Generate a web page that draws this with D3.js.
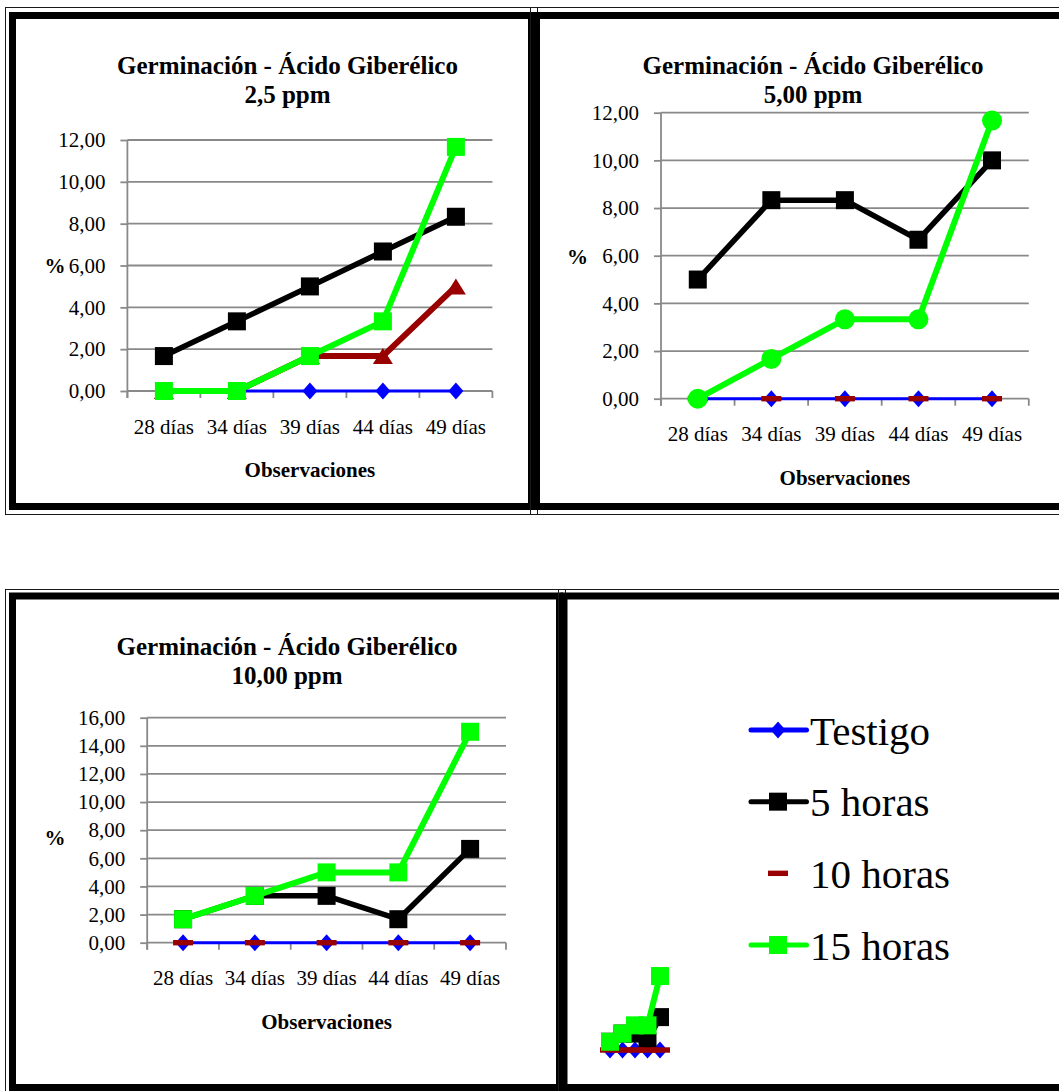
<!DOCTYPE html>
<html>
<head>
<meta charset="utf-8">
<script src="https://cdn.jsdelivr.net/npm/d3@7"></script>
<style>
  html, body { margin: 0; padding: 0; background: #fff; }
  svg { display: block; }
  text { font-family: "Liberation Serif", "Times New Roman", serif; fill: #000; }
</style>
</head>
<body>
<svg id="chart" width="1059" height="1091"></svg>
<script>
// ---- Data ----------------------------------------------------------------
const categories = ["28 días", "34 días", "39 días", "44 días", "49 días"];
const seriesNames = ["Testigo", "5 horas", "10 horas", "15 horas"];

// Ácido giberélico 2,5 ppm
const testigo25 = [0, 0, 0, 0, 0];
const horas5_25 = [1.67, 3.33, 5.00, 6.67, 8.33];
const horas10_25 = [0, 0, 1.67, 1.67, 5.00];
const horas15_25 = [0, 0, 1.67, 3.33, 11.67];

// Ácido giberélico 5,00 ppm
const testigo50 = [0, 0, 0, 0, 0];
const horas5_50 = [5.00, 8.33, 8.33, 6.67, 10.00];
const horas10_50 = [0, 0, 0, 0, 0];
const horas15_50 = [0, 1.67, 3.33, 3.33, 11.67];

// Ácido giberélico 10,00 ppm
const testigo100 = [0, 0, 0, 0, 0];
const horas5_100 = [1.67, 3.33, 3.33, 1.67, 6.67];
const horas10_100 = [0, 0, 0, 0, 0];
const horas15_100 = [1.67, 3.33, 5.00, 5.00, 15.00];

const yTicks12 = [0, 2, 4, 6, 8, 10, 12];
const yTicks16 = [0, 2, 4, 6, 8, 10, 12, 14, 16];

const titleMain = "Germinación - Ácido Giberélico";
const xTitle = "Observaciones";
const yTitle = "%";

// ---- Styling -------------------------------------------------------------
const seriesColors = ["#0000ff", "#000000", "#990000", "#00ff00"];
const seriesWidths = [3, 5.5, 6, 6];
const gridColor = "#898989";
const fmt = d3.formatLocale({ decimal: ",", thousands: ".", grouping: [3], currency: ["", ""] }).format(".2f");

const svg = d3.select("#chart");
svg.append("rect").attr("width", 1059).attr("height", 1091).attr("fill", "#fff");

// Marker shapes, centred on the data point
function drawMarker(sel, type, color) {
  if (type === "square") {
    sel.append("rect").attr("x", -9).attr("y", -9).attr("width", 18).attr("height", 18).attr("fill", color);
  } else if (type === "diamond") {
    sel.append("path").attr("d", "M0,-8.5L7.5,0L0,8.5L-7.5,0Z").attr("fill", color);
  } else if (type === "triangle") {
    sel.append("path").attr("d", "M0,-8L10,8L-10,8Z").attr("fill", color);
  } else if (type === "circle") {
    sel.append("circle").attr("r", 10).attr("fill", color);
  } else if (type === "dash") {
    sel.append("rect").attr("x", -10).attr("y", -2.7).attr("width", 20).attr("height", 5.4).attr("fill", color);
  }
}

// Series lines and markers on a given pair of scales
function drawSeries(g, x, y, seriesValues, markers, showLine) {
  const cx = c => x(c) + x.bandwidth() / 2;
  seriesValues.forEach((vals, i) => {
    const pts = categories.map((c, j) => ({ c, v: vals[j] }));
    const color = seriesColors[i];
    if (showLine[i]) {
      g.append("path")
        .datum(pts)
        .attr("fill", "none")
        .attr("stroke", color)
        .attr("stroke-width", seriesWidths[i])
        .attr("stroke-linejoin", "round")
        .attr("stroke-linecap", "round")
        .attr("d", d3.line().x(d => cx(d.c)).y(d => y(d.v)));
    }
    g.append("g").selectAll("g").data(pts).join("g")
      .attr("transform", d => `translate(${cx(d.c)},${y(d.v)})`)
      .each(function () { drawMarker(d3.select(this), markers[i], color); });
  });
}

// One full chart: gridlines, axes, titles, series
function drawChart(cfg) {
  const g = svg.append("g");
  const x = d3.scaleBand().domain(categories).range([cfg.x0, cfg.x1]);
  const y = d3.scaleLinear().domain([0, cfg.yMax]).range([cfg.yBottom, cfg.yTop]);

  g.append("g").selectAll("line").data(cfg.yTicks).join("line")
    .attr("x1", cfg.x0).attr("x2", cfg.x1)
    .attr("y1", d => y(d)).attr("y2", d => y(d))
    .attr("stroke", gridColor).attr("stroke-width", 1.8);

  const ya = g.append("g").attr("transform", `translate(${cfg.x0},0)`)
    .call(d3.axisLeft(y).tickValues(cfg.yTicks).tickSize(7).tickPadding(15).tickFormat(fmt));
  ya.select(".domain").remove();
  ya.selectAll(".tick line").attr("stroke", gridColor).attr("stroke-width", 1.8);
  ya.selectAll(".tick text").attr("font-size", 21).attr("font-family", null).attr("fill", "#000");

  g.append("line")
    .attr("x1", cfg.x0).attr("x2", cfg.x0)
    .attr("y1", y(cfg.yMax)).attr("y2", y(0) + 7)
    .attr("stroke", gridColor).attr("stroke-width", 1.8);

  const bounds = categories.map(c => x(c)).concat([cfg.x1]);
  g.append("g").selectAll("line").data(bounds).join("line")
    .attr("x1", d => d).attr("x2", d => d)
    .attr("y1", y(0)).attr("y2", y(0) + 7)
    .attr("stroke", gridColor).attr("stroke-width", 1.8);

  const xa = g.append("g").attr("transform", `translate(0,${y(0)})`)
    .call(d3.axisBottom(x).tickSize(0));
  xa.select(".domain").remove();
  xa.selectAll(".tick text").attr("font-size", 21).attr("font-family", null)
    .attr("fill", "#000").attr("dy", null).attr("y", 42.5);

  g.append("text").attr("x", cfg.titleX).attr("y", cfg.titleY)
    .attr("text-anchor", "middle").attr("font-size", 25).attr("font-weight", "bold")
    .text(titleMain);
  g.append("text").attr("x", cfg.titleX).attr("y", cfg.titleY + 29)
    .attr("text-anchor", "middle").attr("font-size", 25).attr("font-weight", "bold")
    .text(cfg.subtitle);

  g.append("text").attr("x", (cfg.x0 + cfg.x1) / 2).attr("y", y(0) + 86)
    .attr("text-anchor", "middle").attr("font-size", 21).attr("font-weight", "bold")
    .text(xTitle);
  g.append("text").attr("x", cfg.pctX).attr("y", cfg.pctY).attr("dy", "0.35em")
    .attr("text-anchor", "middle").attr("font-size", 21).attr("font-weight", "bold")
    .text(yTitle);

  drawSeries(g, x, y, cfg.series, cfg.markers, cfg.showLine);
}

// Double-ruled panel frame: thin outer rule, then a heavy black band
function drawFrame(thin, thick) {
  svg.append("rect").attr("x", thin[0]).attr("y", thin[1]).attr("width", thin[2]).attr("height", thin[3])
    .attr("fill", "none").attr("stroke", "#1a1a1a").attr("stroke-width", 1);
  svg.append("rect").attr("x", thick[0]).attr("y", thick[1]).attr("width", thick[2]).attr("height", thick[3])
    .attr("fill", "none").attr("stroke", "#000").attr("stroke-width", 7);
}

drawFrame([5.5, 7.5, 532, 507], [12.5, 15.5, 519, 491]);
drawFrame([530.5, 7.5, 600, 507], [536.5, 15.5, 600, 491]);
drawFrame([5.5, 589.5, 560, 600], [12.5, 596, 547, 491.5]);
drawFrame([558.5, 589.5, 600, 600], [564, 596, 600, 491.5]);

drawChart({
  x0: 127.4, x1: 492.4, yTop: 140, yBottom: 391, yMax: 12, yTicks: yTicks12,
  titleX: 287.5, titleY: 74, subtitle: "2,5 ppm", pctX: 55, pctY: 266,
  series: [testigo25, horas5_25, horas10_25, horas15_25],
  markers: ["diamond", "square", "triangle", "square"],
  showLine: [true, true, true, true]
});

drawChart({
  x0: 661, x1: 1028.8, yTop: 112.7, yBottom: 398.7, yMax: 12, yTicks: yTicks12,
  titleX: 813, titleY: 74, subtitle: "5,00 ppm", pctX: 577.5, pctY: 257,
  series: [testigo50, horas5_50, horas10_50, horas15_50],
  markers: ["diamond", "square", "dash", "circle"],
  showLine: [true, true, false, true]
});

drawChart({
  x0: 147.2, x1: 506, yTop: 717.7, yBottom: 942.7, yMax: 16, yTicks: yTicks16,
  titleX: 287, titleY: 655, subtitle: "10,00 ppm", pctX: 55, pctY: 838,
  series: [testigo100, horas5_100, horas10_100, horas15_100],
  markers: ["diamond", "square", "dash", "square"],
  showLine: [true, true, false, true]
});

// Legend panel: entries plus the collapsed plot of the 10,00 ppm series
const legendMarkers = ["diamond", "square", "dash", "square"];
const legendLine = [true, true, false, true];
const legendY = d3.scalePoint().domain(seriesNames).range([730, 945]);
const lg = svg.append("g");
seriesNames.forEach((name, i) => {
  const yy = legendY(name);
  if (legendLine[i]) {
    lg.append("line").attr("x1", 751).attr("x2", 806.5).attr("y1", yy).attr("y2", yy)
      .attr("stroke", seriesColors[i]).attr("stroke-width", 5).attr("stroke-linecap", "round");
  }
  const m = lg.append("g").attr("transform", `translate(778,${yy})`);
  drawMarker(m, legendMarkers[i], seriesColors[i]);
  lg.append("text").attr("x", 810).attr("y", yy + 14.5)
    .attr("font-size", 41).text(name);
});

const mini = svg.append("g");
const mx = d3.scaleBand().domain(categories).range([603.75, 666.25]);
const my = d3.scaleLinear().domain([0, 16]).range([1050, 971.1]);
drawSeries(mini, mx, my, [testigo100, horas5_100, horas10_100, horas15_100],
  ["diamond", "square", "dash", "square"], [true, true, false, true]);
</script>
</body>
</html>
